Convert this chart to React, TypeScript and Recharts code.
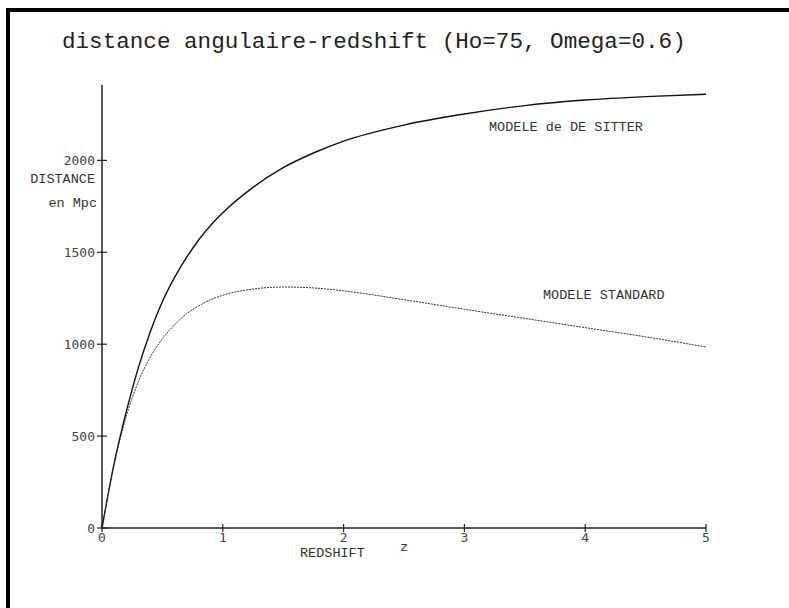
import { LineChart, Line, XAxis, YAxis } from "recharts";

// redshift z
const redshift = [0, 0.1, 0.2, 0.3, 0.4, 0.5, 0.6, 0.7, 0.8, 0.9, 1, 1.25, 1.5, 1.75, 2, 2.5, 3, 3.5, 4, 4.5, 5];
// distance en Mpc
const deSitter = [0, 350, 630, 870, 1068, 1232, 1362, 1472, 1567, 1647, 1715, 1853, 1960, 2040, 2105, 2192, 2252, 2298, 2328, 2347, 2360];
const standard = [0, 345, 605, 795, 930, 1030, 1105, 1165, 1208, 1242, 1266, 1300, 1311, 1306, 1290, 1242, 1190, 1140, 1090, 1040, 985];

const xTicks = [0, 1, 2, 3, 4, 5];
const yTicks = [0, 500, 1000, 1500, 2000];

const data = redshift.map((z, i) => ({ z, sitter: deSitter[i], std: standard[i] }));

const tickFont = { fontFamily: "DejaVu Sans Mono", fontSize: 13, fill: "#444" };
const labelFont = { fontFamily: "Liberation Mono", fontSize: 13.5, fill: "#333" };

function YTick(props: any) {
  const { x, y, payload } = props;
  return (
    <g>
      <line x1={x - 5} x2={x + 5} y1={y} y2={y} stroke="#222" strokeWidth={1.2} />
      <text x={x - 7} y={y + 4.5} textAnchor="end" {...tickFont}>
        {payload.value}
      </text>
    </g>
  );
}

function XTick(props: any) {
  const { x, y, payload } = props;
  return (
    <g>
      <line x1={x} x2={x} y1={y - 4} y2={y + 4} stroke="#222" strokeWidth={1.2} />
      <text x={x} y={y + 14} textAnchor="middle" {...tickFont}>
        {payload.value}
      </text>
    </g>
  );
}

export default function App() {
  return (
    <div style={{ position: "absolute", left: 0, top: 0, width: 789, height: 608, background: "#fff" }}>
      <div
        style={{
          position: "absolute",
          left: 6,
          top: 8,
          width: 783,
          height: 600,
          borderLeft: "4px solid #000",
          borderTop: "4px solid #000",
          boxSizing: "border-box",
        }}
      />
      <LineChart
        width={789}
        height={608}
        data={data}
        margin={{ top: 85, right: 83, bottom: 79, left: 101 }}
        style={{ position: "absolute", left: 0, top: 0 }}
      >
        <XAxis
          dataKey="z"
          type="number"
          domain={[0, 5]}
          ticks={xTicks}
          height={1}
          tickLine={false}
          tickSize={0}
          tickMargin={0}
          tick={<XTick />}
          axisLine={{ stroke: "#222", strokeWidth: 1.5 }}
        />
        <YAxis
          type="number"
          domain={[0, 2410]}
          ticks={yTicks}
          width={1}
          tickLine={false}
          tickSize={0}
          tickMargin={0}
          tick={<YTick />}
          axisLine={{ stroke: "#222", strokeWidth: 1.5 }}
        />
        <Line
          type="monotone"
          dataKey="sitter"
          stroke="#111"
          strokeWidth={1.4}
          dot={false}
          isAnimationActive={false}
        />
        <Line
          type="monotone"
          dataKey="std"
          stroke="#333"
          strokeWidth={1}
          strokeDasharray="2 1"
          dot={false}
          isAnimationActive={false}
        />
      </LineChart>
      <svg width={789} height={608} style={{ position: "absolute", left: 0, top: 0, pointerEvents: "none" }}>
        <text x={62} y={48} fontFamily="Liberation Mono" fontSize={22.6} fill="#222">
          distance angulaire-redshift (Ho=75, Omega=0.6)
        </text>
        <text x={489} y={131} {...labelFont}>MODELE de DE SITTER</text>
        <text x={543} y={299} {...labelFont}>MODELE STANDARD</text>
        <text x={95} y={183} textAnchor="end" {...labelFont}>DISTANCE</text>
        <text x={97} y={207} textAnchor="end" {...labelFont}>en Mpc</text>
        <text x={300} y={557} {...labelFont}>REDSHIFT</text>
        <text x={400} y={551} {...labelFont}>z</text>
      </svg>
    </div>
  );
}
